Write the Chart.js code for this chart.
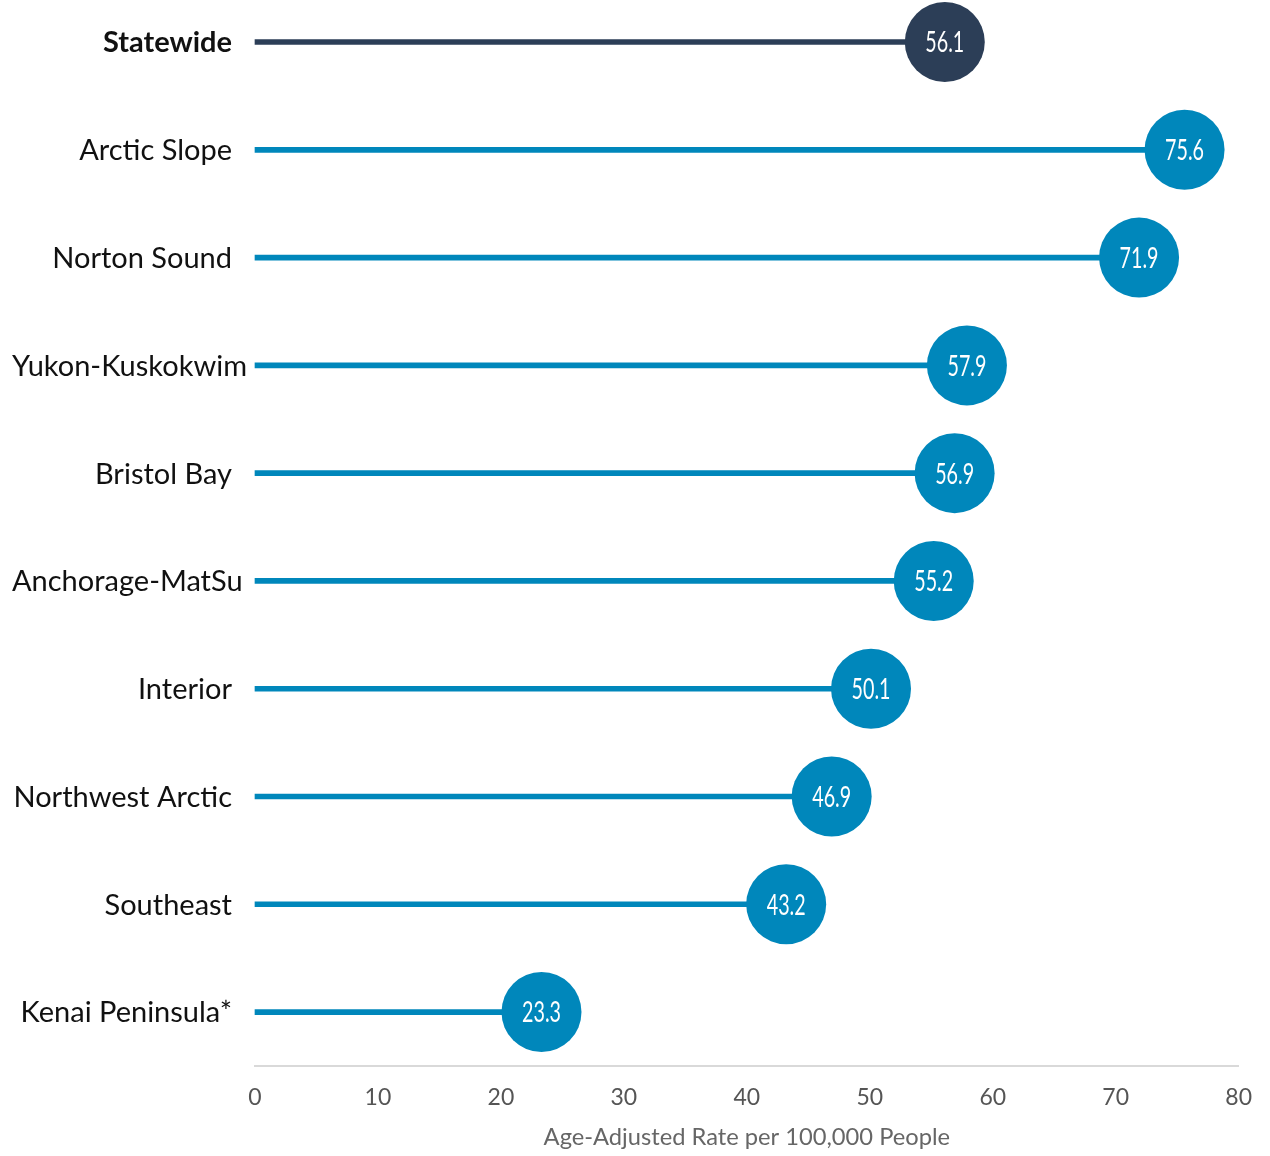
<!DOCTYPE html>
<html>
<head>
<meta charset="utf-8">
<script src="https://cdn.jsdelivr.net/npm/chart.js@4"></script>
<style>
  html, body { margin:0; padding:0; background:#fff; }
  #wrap { width:1270px; height:1156px; position:relative; }
</style>
</head>
<body>
<div id="wrap"><canvas id="chart"></canvas></div>
<script>
// data
const regions = ["Statewide","Arctic Slope","Norton Sound","Yukon-Kuskokwim","Bristol Bay",
  "Anchorage-MatSu","Interior","Northwest Arctic","Southeast","Kenai Peninsula*"];
const rates = [56.1, 75.6, 71.9, 57.9, 56.9, 55.2, 50.1, 46.9, 43.2, 23.3];
const xTicks = [0, 10, 20, 30, 40, 50, 60, 70, 80];
const axisTitle = "Age-Adjusted Rate per 100,000 People";

const DARK = "#2c3e57", BLUE = "#0087bb";
const FONT = "Lato, 'Open Sans', sans-serif";
const colors = regions.map((r, i) => i === 0 ? DARK : BLUE);
const pts = rates.map((v, i) => ({x: v, y: i}));

// left labels + numbers in the dots
const labelPlugin = {
  id: "labels",
  afterDatasetsDraw(chart){
    const c = chart.ctx;
    const ys = chart.scales.y;
    c.save();
    c.textBaseline = "middle";
    c.textAlign = "left";
    regions.forEach((name, i) => {
      c.font = (i === 0 ? "bold " : "") + "29px " + FONT;
      c.fillStyle = "#111";
      const w = c.measureText(name).width;
      c.fillText(name, Math.max(12, 232 - w), ys.getPixelForValue(i) + 1);
    });
    // condensed look for the numbers: squeeze Lato horizontally
    const meta = chart.getDatasetMeta(0);
    c.font = "29px " + FONT;
    c.fillStyle = "#fff";
    c.textAlign = "center";
    meta.data.forEach((el, i) => {
      c.save();
      c.translate(el.x, el.y + 1);
      c.scale(0.68, 1);
      c.fillText(rates[i].toFixed(1), 0, 0);
      c.restore();
    });
    c.restore();
  }
};

new Chart(document.getElementById("chart"), {
  data: {
    datasets: [
      { type:"scatter", data: pts, backgroundColor: colors, pointRadius: 40, pointHoverRadius: 40,
        pointBorderWidth: 0, borderWidth: 0, order: 0, clip: false },
      { type:"bar", indexAxis:"y", data: pts, backgroundColor: colors, barThickness: 5,
        order: 1, clip: false }
    ]
  },
  options: {
    responsive: true,
    maintainAspectRatio: false,
    animation: false,
    events: [],
    layout: { autoPadding: false, padding: { left: 255, right: 27, top: 0, bottom: 4 } },
    scales: {
      x: {
        type: "linear", min: 0, max: 80,
        afterBuildTicks: s => { s.ticks = xTicks.map(v => ({value: v})); },
        grid: { display: false, drawTicks: false },
        border: { display: true, color: "#d9d9d9", width: 2 },
        ticks: { color: "#555", padding: 18, font: { family: FONT, size: 23 } },
        title: { display: true, text: axisTitle, color: "#666", padding: { top: -6, bottom: 0 },
          font: { family: FONT, size: 23.7 } }
      },
      y: {
        type: "linear", reverse: true, min: -0.39, max: 9.5,
        offset: false, grace: 0,
        afterBuildTicks: s => { s.min = -0.39; s.max = 9.5; },
        display: false
      }
    },
    plugins: { legend: { display: false }, tooltip: { enabled: false } }
  },
  plugins: [labelPlugin]
});
</script>
</body>
</html>
